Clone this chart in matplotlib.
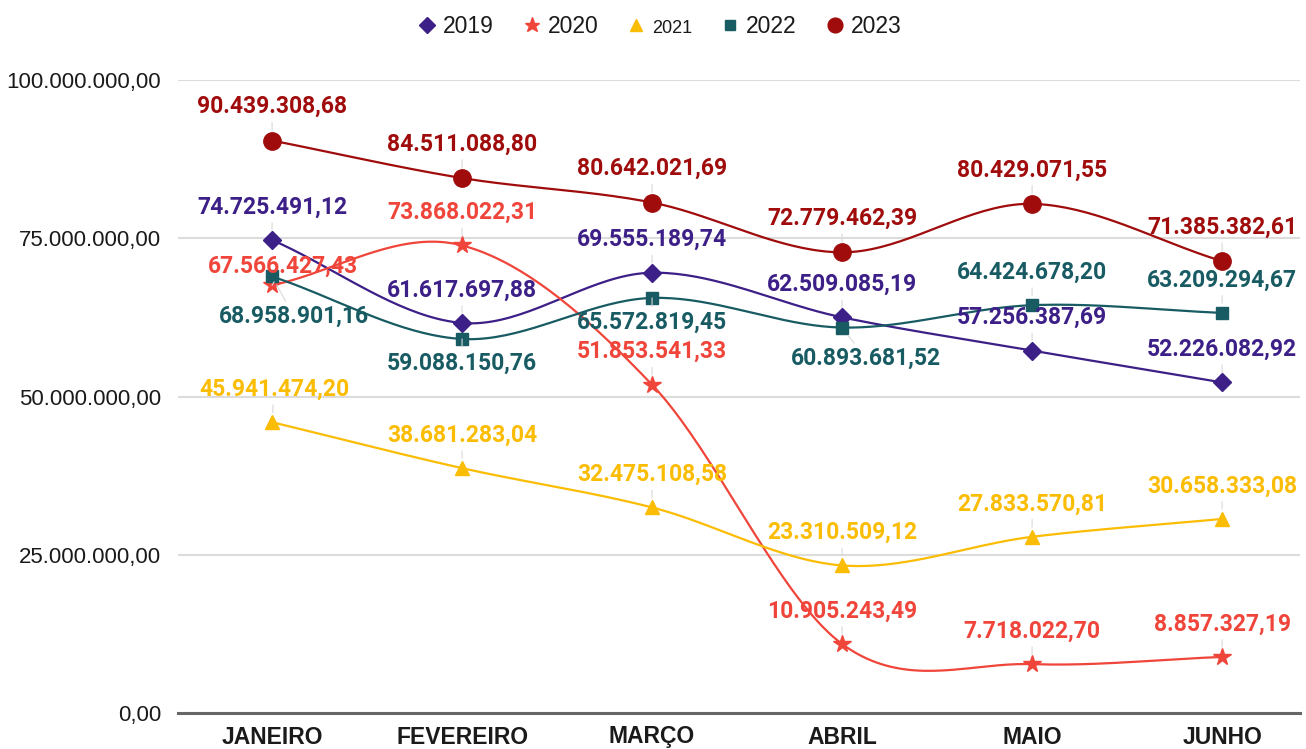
import matplotlib.pyplot as plt
from matplotlib.lines import Line2D
from matplotlib.ticker import FuncFormatter
import numpy as np

meses = ["JANEIRO", "FEVEREIRO", "MARÇO", "ABRIL", "MAIO", "JUNHO"]
anos = ["2019", "2020", "2021", "2022", "2023"]
v2019 = [74725491.12, 61617697.88, 69555189.74, 62509085.19, 57256387.69, 52226082.92]
v2020 = [67566427.43, 73868022.31, 51853541.33, 10905243.49, 7718022.70, 8857327.19]
v2021 = [45941474.20, 38681283.04, 32475108.58, 23310509.12, 27833570.81, 30658333.08]
v2022 = [68958901.16, 59088150.76, 65572819.45, 60893681.52, 64424678.20, 63209294.67]
v2023 = [90439308.68, 84511088.80, 80642021.69, 72779462.39, 80429071.55, 71385382.61]
series = [v2019, v2020, v2021, v2022, v2023]

cores = ["#3c1f87", "#f0453a", "#fbbc04", "#185b63", "#a00c0c"]
marcadores = ["D", "*", "^", "s", "o"]
tam = [9, 13, 10, 8, 12.5]

# deslocamento dos rotulos (pixels)
desl = [
    [(0, 33)] * 6,
    [(11, 19)] + [(0, 33)] * 5,
    [(2, 33)] + [(0, 33)] * 5,
    [(22, -40), (0, -24), (0, -24), (24, -31), (0, 33), (0, 33)],
    [(0, 34)] * 6,
]


def br(v):
    s = f"{v:,.2f}"
    return s.replace(",", "X").replace(".", ",").replace("X", ".")


def suave(y, n=40):
    # catmull-rom entre os pontos
    y = np.asarray(y, float)
    m = np.gradient(y)
    xs, ys = [], []
    t = np.linspace(0, 1, n)
    h00 = 2 * t**3 - 3 * t**2 + 1
    h10 = t**3 - 2 * t**2 + t
    h01 = -2 * t**3 + 3 * t**2
    h11 = t**3 - t**2
    for i in range(len(y) - 1):
        xs.append(i + t)
        ys.append(h00 * y[i] + h10 * m[i] + h01 * y[i + 1] + h11 * m[i + 1])
    return np.concatenate(xs), np.concatenate(ys)


fig = plt.figure(figsize=(13.06, 7.49), dpi=100)
ax = fig.add_axes([178 / 1306, 36 / 749, 1122 / 1306, 633 / 749])

x = np.arange(len(meses))
for k, vals in enumerate(series):
    xs, ys = suave(vals)
    ax.plot(xs, ys, color=cores[k], lw=1.6, zorder=3)
    ax.plot(x, vals, ls="none", marker=marcadores[k], ms=tam[k],
            color=cores[k], zorder=4)
    for i, v in enumerate(vals):
        dx, dy = desl[k][i]
        ax.annotate(br(v), (i, v), xytext=(dx, dy), textcoords="offset pixels",
                    ha="center", va="center", color=cores[k], fontsize=16.5,
                    fontweight="bold", family="Roboto", zorder=5,
                    arrowprops=dict(arrowstyle="-", color="#d9d9d9", lw=0.8,
                                    shrinkA=1, shrinkB=7))

ax.set_xlim(-0.495, 5.41)
ax.set_ylim(0, 100000000)
ax.set_yticks([0, 25000000, 50000000, 75000000, 100000000])
ax.yaxis.set_major_formatter(FuncFormatter(lambda v, _: br(v)))
ax.set_xticks(x)
ax.set_xticklabels(meses, fontsize=16.5, fontweight="bold", family="Liberation Sans",
                   color="#1a1a1a")
for lb in ax.get_yticklabels():
    lb.set_fontsize(16)
    lb.set_family("Liberation Sans")
    lb.set_color("#1a1a1a")
ax.tick_params(axis="both", length=0)
ax.tick_params(axis="x", pad=9)
ax.tick_params(axis="y", pad=12)
ax.grid(axis="y", color="#dcdcdc", lw=1.5)
ax.set_axisbelow(True)
for s in ["top", "right", "left"]:
    ax.spines[s].set_visible(False)
ax.spines["bottom"].set_color("#666666")
ax.spines["bottom"].set_linewidth(2.2)

alcas = [Line2D([], [], ls="none", marker=marcadores[k], ms=tam[k] * 0.85,
                color=cores[k]) for k in range(len(anos))]
leg = fig.legend(alcas, anos, loc="center", bbox_to_anchor=(0.505, 0.964),
                 ncol=5, frameon=False, handlelength=0.8, handletextpad=0.3,
                 columnspacing=1.25, prop={"family": "Liberation Sans", "size": 16.5})
for t in leg.get_texts():
    t.set_color("#1a1a1a")
leg.get_texts()[2].set_fontsize(13)

fig.savefig("out.png", dpi=100)
